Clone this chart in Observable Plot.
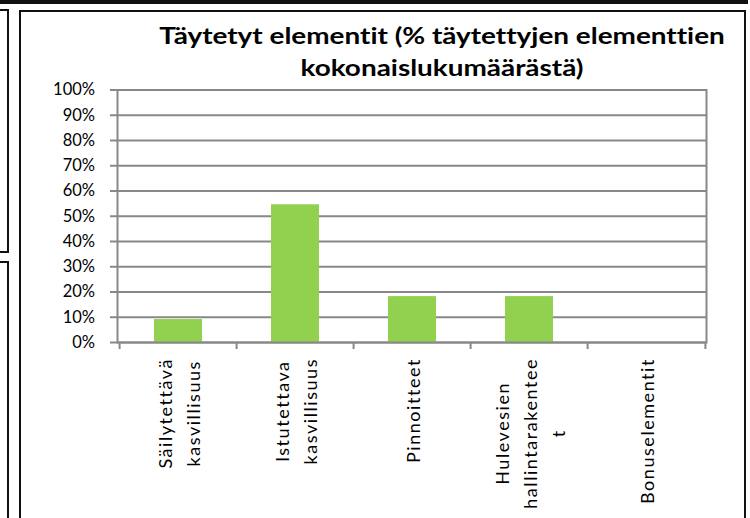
<!DOCTYPE html>
<html><head><meta charset="utf-8">
<script src="https://cdn.jsdelivr.net/npm/d3@7"></script>
<script src="https://cdn.jsdelivr.net/npm/@observablehq/plot@0.6"></script>
<style>
html,body{margin:0;padding:0;background:#fff;overflow:hidden}
#wrap{position:relative;width:750px;height:518px;overflow:hidden;background:#fff}
.bx{position:absolute;box-sizing:border-box;border:2px solid #111}
#title{position:absolute;left:42px;width:800px;top:19.6px;text-align:center;font:bold 22.5px/32px Lato;color:#000;white-space:nowrap;font-variant-ligatures:none;font-feature-settings:"liga" 0;transform:scaleX(1.24);transform-origin:400px 0}
#chart{position:absolute;left:0;top:0}
#chart svg{font-variant-ligatures:none;font-feature-settings:"liga" 0}
#chart g[aria-label="text"] text{letter-spacing:1.55px}
</style></head><body>
<div id="wrap">
 <div style="position:absolute;left:0;top:0;width:748px;height:3.5px;background:#111"></div>
 <div class="bx" style="left:-20px;top:9px;width:29px;height:244px"></div>
 <div class="bx" style="left:-20px;top:261px;width:29px;height:400px"></div>
 <div class="bx" style="left:18.5px;top:10px;width:727px;height:600px"></div>
 <div id="chart"></div>
 <div id="title">Täytetyt elementit (% täytettyjen elementtien<br>kokonaislukumäärästä)</div>
</div>
<script>
const categories = ["Säilytettävä\nkasvillisuus", "Istutettava\nkasvillisuus", "Pinnoitteet", "Hulevesien\nhallintarakentee\nt", "Bonuselementit"];
const values = [9.09, 54.55, 18.18, 18.18, 0];
const yTicks = [0, 10, 20, 30, 40, 50, 60, 70, 80, 90, 100];

const data = categories.map((c, i) => ({cat: c, value: values[i]}));

const W = 750, H = 518, mL = 117, mR = 44, mT = 89.5, mB = 176;
const step = (W - mL - mR) / categories.length;
const plotH = H - mT - mB;
const grey = "#888888";
const labelFont = 18, labelLS = 1.55, labelLH = 28;

const ctx = document.createElement("canvas").getContext("2d");
ctx.font = `${labelFont}px Lato`;
if ("letterSpacing" in ctx) ctx.letterSpacing = labelLS + "px";

const labelMarks = categories.map(c => {
  const L = d3.max(c.split("\n"), s => ctx.measureText(s).width);
  return Plot.text([c], {
    x: d => d, text: d => d, frameAnchor: "bottom", rotate: -90,
    textAnchor: "middle", lineAnchor: "middle", lineHeight: labelLH / labelFont,
    fontSize: labelFont, fill: "#000", dx: -1.5, dy: 15.5 + L / 2
  });
});

const chart = Plot.plot({
  width: W, height: H,
  marginLeft: mL, marginRight: mR, marginTop: mT, marginBottom: mB,
  style: {fontFamily: "Lato", fontSize: "16.5px", color: "#000", background: "transparent", overflow: "visible"},
  x: {domain: categories, paddingInner: 0.59, paddingOuter: 0.295, axis: null},
  y: {domain: [0, 100], axis: null},
  marks: [
    Plot.gridY(yTicks, {stroke: grey, strokeOpacity: 1, strokeWidth: 2}),
    Plot.barY(data, {x: "cat", y: "value", fill: "#92D050"}),
    Plot.frame({stroke: grey, strokeWidth: 2}),
    Plot.axisY(yTicks, {tickFormat: d => d + "%", tickSize: 7, tickPadding: 15.5, stroke: grey, strokeWidth: 2, fill: "#000", fontSize: 16.5, label: null}),
    Plot.ruleX(categories, {x: d => d, dx: -step / 2, insetTop: plotH, insetBottom: -7, stroke: grey, strokeWidth: 2}),
    Plot.ruleX(categories.slice(-1), {x: d => d, dx: step / 2, insetTop: plotH, insetBottom: -7, stroke: grey, strokeWidth: 2}),
    ...labelMarks
  ]
});
document.getElementById("chart").appendChild(chart);
</script>
</body></html>
